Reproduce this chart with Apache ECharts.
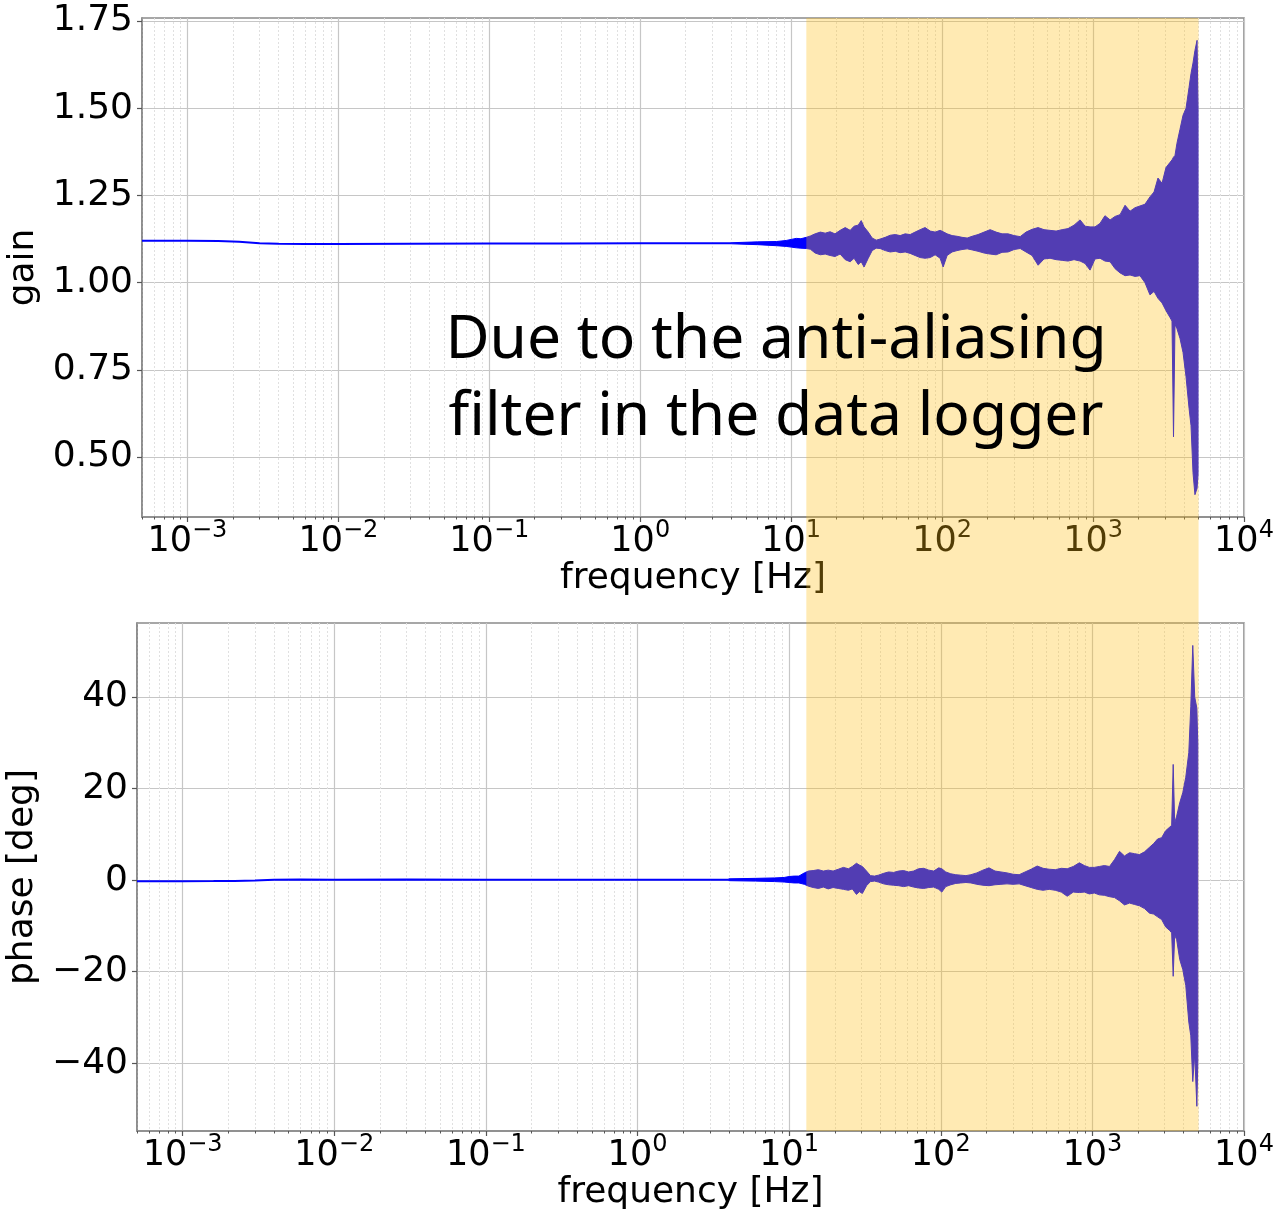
<!DOCTYPE html>
<html>
<head>
<meta charset="utf-8">
<script src="https://cdn.jsdelivr.net/npm/echarts@6/dist/echarts.min.js"></script>
<style>
  html, body { margin: 0; padding: 0; background: #ffffff; }
  #chart { width: 1281px; height: 1213px; }
</style>
</head>
<body>
<div id="chart"></div>
<script>
// ---- Axis ranges and tick values ----
const freqMin = 5e-4;
const freqMax = 1e4;
const gainMin = 0.328;
const gainMax = 1.759;
const phaseMin = -54.8;
const phaseMax = 56.2;

const decadeTicks = [1e-3, 1e-2, 1e-1, 1, 10, 100, 1000, 10000];
const minorFreqTicks = [
  5e-4, 6e-4, 7e-4, 8e-4, 9e-4,
  2e-3, 3e-3, 4e-3, 5e-3, 6e-3, 7e-3, 8e-3, 9e-3,
  2e-2, 3e-2, 4e-2, 5e-2, 6e-2, 7e-2, 8e-2, 9e-2,
  0.2, 0.3, 0.4, 0.5, 0.6, 0.7, 0.8, 0.9,
  2, 3, 4, 5, 6, 7, 8, 9,
  20, 30, 40, 50, 60, 70, 80, 90,
  200, 300, 400, 500, 600, 700, 800, 900,
  2000, 3000, 4000, 5000, 6000, 7000, 8000, 9000
];
const gainTicks = [0.5, 0.75, 1.0, 1.25, 1.5, 1.75];
const phaseTicks = [-40, -20, 0, 20, 40];

// ---- Smooth low-frequency part of the transfer function ----
const lowFreq  = [5e-4, 1e-3, 1.6e-3, 2.2e-3, 3e-3, 4e-3, 6e-3, 1e-2, 3e-2, 0.1, 0.3, 1, 2, 4];
const gainLow  = [1.1200, 1.1200, 1.1198, 1.1170, 1.1130, 1.1115, 1.1110, 1.1110, 1.1118, 1.1122, 1.1125, 1.1128, 1.1130, 1.1130];
const phaseLow = [-0.22, -0.22, -0.20, -0.15, -0.05, 0.08, 0.15, 0.12, 0.18, 0.12, 0.10, 0.10, 0.10, 0.10];

// ---- Noisy high-frequency part: upper / lower envelope of the scatter ----
const noisyFreq = [
  4.0, 6.0, 8.0, 9.27, 10.0, 10.8, 11.6, 12.6, 13.4, 14.4,
  15.6, 16.8, 18.1, 19.5, 21.1, 22.8, 24.6, 26.1, 27.8, 29.1,
  30.4, 32.4, 34.4, 36.6, 38.8, 42.0, 45.3, 48.9, 52.7, 56.9,
  61.4, 66.2, 71.5, 77.1, 83.4, 89.9, 97.0, 101.6, 107.9, 116.4,
  125.6, 135.5, 146.6, 158.1, 173.0, 189.7, 208.0, 228.0, 249.5, 273.5,
  299.9, 328.9, 359.7, 394.5, 432.5, 473.2, 518.8, 568.9, 623.7, 682.3,
  748.2, 820.4, 885.1, 955.0, 1030, 1112, 1199, 1297, 1400, 1510,
  1629, 1758, 1897, 2046, 2208, 2382, 2535, 2692, 2864, 3041,
  3236, 3334, 3412, 3490, 3597, 3767, 3945, 4130, 4325, 4457,
  4594, 4732, 4887, 4955
];
const gainHi = [
  1.1145, 1.117, 1.118, 1.121, 1.124, 1.127, 1.126, 1.130, 1.134, 1.140,
  1.145, 1.142, 1.146, 1.140, 1.150, 1.158, 1.150, 1.162, 1.165, 1.178,
  1.160, 1.145, 1.128, 1.122, 1.125, 1.130, 1.136, 1.138, 1.135, 1.140,
  1.138, 1.145, 1.152, 1.158, 1.148, 1.145, 1.150, 1.146, 1.140, 1.135,
  1.133, 1.130, 1.128, 1.133, 1.138, 1.145, 1.152, 1.145, 1.140, 1.140,
  1.135, 1.132, 1.145, 1.153, 1.158, 1.152, 1.150, 1.148, 1.152, 1.155,
  1.165, 1.180, 1.162, 1.160, 1.160, 1.170, 1.192, 1.180, 1.190, 1.195,
  1.222, 1.205, 1.215, 1.220, 1.225, 1.246, 1.260, 1.300, 1.285, 1.330,
  1.345, 1.352, 1.360, 1.365, 1.400, 1.440, 1.480, 1.500, 1.560, 1.600,
  1.630, 1.666, 1.695, 1.500
];
const gainLo = [
  1.1115, 1.109, 1.106, 1.104, 1.102, 1.100, 1.099, 1.098, 1.096, 1.085,
  1.080, 1.082, 1.078, 1.075, 1.082, 1.066, 1.060, 1.070, 1.052, 1.060,
  1.045, 1.070, 1.092, 1.099, 1.098, 1.092, 1.088, 1.090, 1.086, 1.088,
  1.084, 1.078, 1.072, 1.070, 1.072, 1.080, 1.070, 1.045, 1.078, 1.088,
  1.092, 1.095, 1.097, 1.094, 1.090, 1.085, 1.082, 1.080, 1.087, 1.088,
  1.095, 1.098, 1.088, 1.078, 1.050, 1.068, 1.070, 1.066, 1.064, 1.062,
  1.066, 1.062, 1.055, 1.036, 1.068, 1.070, 1.062, 1.060, 1.040, 1.028,
  1.020, 1.022, 1.018, 1.020, 1.000, 0.965, 0.975, 0.955, 0.942, 0.920,
  0.900, 0.890, 0.558, 0.880, 0.868, 0.840, 0.800, 0.730, 0.640, 0.590,
  0.455, 0.392, 0.410, 0.450
];
const phaseHi = [
  0.3, 0.4, 0.5, 0.6, 0.8, 0.9, 0.9, 1.6, 2.0, 2.1,
  2.3, 2.0, 2.2, 2.0, 2.4, 2.8, 2.5, 3.0, 3.7, 3.3,
  3.0, 2.0, 1.0, 0.9, 1.1, 1.5, 1.8, 1.7, 2.0, 2.1,
  1.8, 2.0, 2.5, 2.6, 2.2, 2.0, 2.7, 2.5, 1.8, 1.4,
  1.2, 1.1, 1.0, 1.2, 1.6, 2.2, 2.7, 2.0, 1.8, 1.6,
  1.3, 1.2, 1.8, 2.4, 3.1, 2.6, 2.4, 2.3, 2.6, 2.5,
  3.0, 3.8, 3.2, 2.8, 2.8, 3.0, 3.2, 3.0, 4.5, 6.3,
  5.3, 6.0, 5.8, 5.6, 6.2, 7.2, 8.0, 9.0, 9.3, 10.8,
  11.6, 12.0, 25.3, 12.5, 14.0, 16.9, 19.1, 22.5, 27.9, 38.0,
  51.3, 40.0, 37.6, 30.0
];
const phaseLo = [
  -0.1, -0.2, -0.3, -0.4, -0.5, -0.6, -0.6, -0.9, -1.3, -1.6,
  -1.8, -1.5, -1.9, -1.6, -1.8, -2.0, -2.2, -1.9, -3.1, -2.5,
  -2.9, -1.2, -0.3, -0.2, -0.4, -0.8, -1.0, -1.1, -1.2, -1.4,
  -1.2, -1.5, -1.7, -1.8, -1.6, -1.5, -2.0, -2.6, -1.4, -1.0,
  -0.7, -0.6, -0.5, -0.6, -0.9, -1.1, -1.2, -1.0, -0.9, -0.8,
  -0.9, -0.8, -1.2, -1.6, -2.0, -2.2, -2.0, -2.2, -2.6, -3.5,
  -2.6, -2.7, -2.6, -3.0, -2.8, -3.2, -3.3, -3.6, -3.8, -4.5,
  -5.4, -5.0, -5.3, -5.6, -6.2, -7.2, -7.4, -8.0, -8.6, -10.2,
  -11.0, -11.5, -21.0, -12.0, -13.0, -17.3, -19.5, -23.0, -31.0, -34.0,
  -44.0, -38.0, -49.4, -40.0
];

// Frequency band affected by the anti-aliasing filter
const bandFreq = [12.6, 5000];
const noteText = 'Due to the anti-aliasing\nfilter in the data logger';

// ---- Styling ----
const BLUE = '#0000ff';
const FRAME = '#8a8a8a';
const MAJOR_GRID = '#c6c6c6';
const MINOR_GRID = '#e0e0e0';
const TICK_COLOR = '#555555';
const FONT = 'DejaVu Sans';
const TICK_SIZE = 36;

function decadeLabel(v) {
  const e = Math.round(Math.log10(v));
  return '{b|10}{s|' + (e < 0 ? '\u2212' : '') + Math.abs(e) + '}';
}

function majorFreqAxis(gridIndex) {
  return {
    type: 'log', logBase: 10, gridIndex: gridIndex, position: 'bottom',
    min: freqMin, max: freqMax,
    axisLine: { show: true, onZero: false, lineStyle: { color: FRAME, width: 1.6 } },
    axisTick: { show: true, customValues: decadeTicks, length: 5, lineStyle: { color: TICK_COLOR, width: 1.2 } },
    axisLabel: {
      show: true, customValues: decadeTicks, margin: 2, formatter: decadeLabel,
      rich: {
        b: { fontFamily: FONT, fontSize: 35, color: '#000', lineHeight: 40, verticalAlign: 'bottom' },
        s: { fontFamily: FONT, fontSize: 24, color: '#000', lineHeight: 20, verticalAlign: 'top' }
      }
    },
    splitLine: { show: true, lineStyle: { color: MAJOR_GRID, width: 1.2 } },
    minorTick: { show: false }, minorSplitLine: { show: false },
    name: 'frequency [Hz]', nameLocation: 'middle', nameGap: 44,
    nameTextStyle: { fontFamily: FONT, fontSize: 36, color: '#000' }
  };
}

function minorFreqAxis(gridIndex) {
  return {
    type: 'log', logBase: 10, gridIndex: gridIndex, position: 'bottom',
    min: freqMin, max: freqMax,
    axisLine: { show: false, onZero: false },
    axisTick: { show: true, customValues: minorFreqTicks, length: 2.5, lineStyle: { color: TICK_COLOR, width: 1 } },
    axisLabel: { show: false },
    splitLine: { show: true, lineStyle: { color: MINOR_GRID, width: 1, type: [2, 2] } },
    minorTick: { show: false }, minorSplitLine: { show: false }
  };
}

function valueAxis(gridIndex, min, max, ticks, fmt, name, nameGap) {
  return {
    type: 'value', gridIndex: gridIndex, min: min, max: max,
    axisLine: { show: true, onZero: false, lineStyle: { color: FRAME, width: 1.6 } },
    axisTick: { show: true, customValues: ticks, length: 5, lineStyle: { color: TICK_COLOR, width: 1.2 } },
    axisLabel: { show: true, customValues: ticks, formatter: fmt, margin: 9,
                 fontFamily: FONT, fontSize: TICK_SIZE, color: '#000' },
    splitLine: { show: true, lineStyle: { color: MAJOR_GRID, width: 1.2 } },
    name: name, nameLocation: 'middle', nameGap: nameGap,
    nameTextStyle: { fontFamily: FONT, fontSize: 36, color: '#000' }
  };
}

function envelopeSeries(xIdx, yIdx, freq, hi, lo) {
  return {
    type: 'custom', xAxisIndex: xIdx, yAxisIndex: yIdx, silent: true, z: 3,
    data: freq.map((f, i) => [f, lo[i], hi[i]]),
    encode: { x: 0, y: [1, 2] },
    renderItem: function (params, api) {
      if (params.dataIndex !== 0) return;
      const pts = [];
      for (let i = 0; i < freq.length; i++) pts.push(api.coord([freq[i], hi[i]]));
      for (let i = freq.length - 1; i >= 0; i--) pts.push(api.coord([freq[i], lo[i]]));
      return { type: 'polygon', shape: { points: pts },
               style: { fill: BLUE, stroke: BLUE, lineWidth: 1, lineJoin: 'miter' } };
    }
  };
}

function lineSeries(xIdx, yIdx, freq, vals) {
  return {
    type: 'line', xAxisIndex: xIdx, yAxisIndex: yIdx, silent: true, z: 3,
    showSymbol: false, symbol: 'none', smooth: false,
    data: freq.map((f, i) => [f, vals[i]]),
    lineStyle: { color: BLUE, width: 2 }
  };
}

const chart = echarts.init(document.getElementById('chart'), null, { renderer: 'canvas' });

chart.setOption({
  animation: false,
  backgroundColor: '#ffffff',
  grid: [
    { left: 142, right: 37, top: 18, height: 499, show: true, borderColor: FRAME, borderWidth: 1.6,
      backgroundColor: 'transparent', containLabel: false, outerBoundsMode: 'none' },
    { left: 137, right: 37, top: 623, height: 508, show: true, borderColor: FRAME, borderWidth: 1.6,
      backgroundColor: 'transparent', containLabel: false, outerBoundsMode: 'none' }
  ],
  xAxis: [majorFreqAxis(0), minorFreqAxis(0), majorFreqAxis(1), minorFreqAxis(1)],
  yAxis: [
    valueAxis(0, gainMin, gainMax, gainTicks, v => v.toFixed(2), 'gain', 88),
    valueAxis(1, phaseMin, phaseMax, phaseTicks,
              v => (v < 0 ? '\u2212' : '') + Math.abs(Math.round(v)), 'phase [deg]', 85)
  ],
  series: [
    lineSeries(0, 0, lowFreq, gainLow),
    envelopeSeries(0, 0, noisyFreq, gainHi, gainLo),
    lineSeries(2, 1, lowFreq, phaseLow),
    envelopeSeries(2, 1, noisyFreq, phaseHi, phaseLo)
  ]
});

// Highlight band drawn over both panels, positioned through the axis scales
const bx0 = chart.convertToPixel({ xAxisIndex: 0 }, bandFreq[0]);
const bx1 = chart.convertToPixel({ xAxisIndex: 0 }, bandFreq[1]);
const by0 = chart.convertToPixel({ yAxisIndex: 0 }, gainMax);
const by1 = chart.convertToPixel({ yAxisIndex: 1 }, phaseMin);

chart.setOption({
  graphic: [
    { type: 'rect', silent: true, z: 100,
      shape: { x: bx0, y: by0, width: bx1 - bx0, height: by1 - by0 },
      style: { fill: 'rgba(255,190,20,0.32)' } },
    { type: 'text', silent: true, z: 101, x: 776, y: 379,
      style: { text: noteText, fontFamily: 'Noto Sans', fontSize: 60.5, lineHeight: 77,
               fill: '#000', align: 'center', verticalAlign: 'middle' } }
  ]
});
</script>
</body>
</html>
